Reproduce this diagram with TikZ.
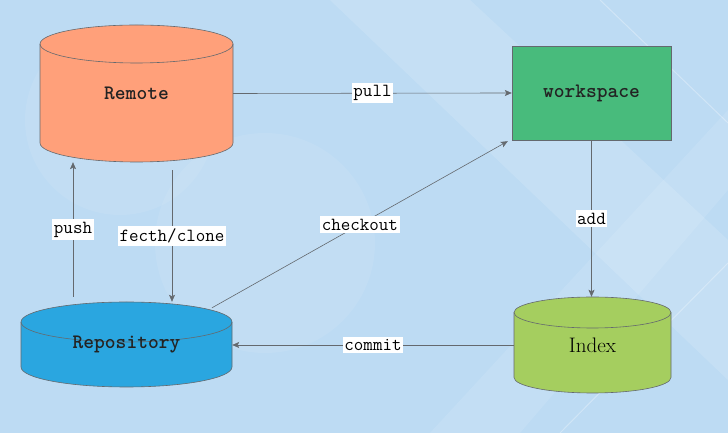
\documentclass[tikz,border=0pt]{standalone}
\usepackage{fontspec}
\usetikzlibrary{arrows.meta}
\definecolor{gbg}{RGB}{189,219,243}
\definecolor{gline}{RGB}{100,105,110}
\definecolor{gtext}{RGB}{35,35,35}
\definecolor{gremote}{RGB}{255,160,122}
\definecolor{grepo}{RGB}{42,166,224}
\definecolor{gindex}{RGB}{165,206,95}
\definecolor{gwork}{RGB}{72,187,124}

% cylinder: centre x, top y, bottom y, half width, y radius, colour
\newcommand{\gitdb}[6]{%
    \filldraw[fill=#6, draw=gline, line width=0.6pt]
        (#1-#4,#2-#5) -- (#1-#4,#3+#5)
        arc[start angle=180, end angle=360, x radius=#4, y radius=#5]
        -- (#1+#4,#2-#5)
        arc[start angle=0, end angle=180, x radius=#4, y radius=#5] -- cycle;
    \draw[gline, line width=0.6pt] (#1-#4,#2-#5)
        arc[start angle=180, end angle=360, x radius=#4, y radius=#5];
}

\begin{document}
\begin{tikzpicture}[x=1pt, y=1pt,
    place/.style={inner sep=0pt, font=\ttfamily\bfseries\fontsize{20.5}{22}\selectfont, text=gtext},
    lbl/.style={fill=white, inner xsep=1.5pt, inner ysep=2.5pt, font=\ttfamily\fontsize{18.5}{19}\selectfont, text=black},
    flow/.style={gline, line width=0.6pt, -{Stealth[length=7pt, width=6pt, inset=1.5pt]}}]
    \useasboundingbox (0,0) rectangle (728,433);

    % Draw the background
    \fill[gbg] (0,0) rectangle (728,433);
    \fill[white, opacity=0.13] (330,433) -- (470,433) -- (728,193) -- (728,53) -- cycle;
    \fill[white, opacity=0.1] (430,0) -- (520,0) -- (728,243) -- (728,323) -- cycle;
    \fill[white, opacity=0.08] (120,313) circle[radius=95];
    \fill[white, opacity=0.08] (265,190) circle[radius=110];
    \draw[white, opacity=0.3, line width=1pt] (560,0) -- (728,170);
    \draw[white, opacity=0.3, line width=1pt] (600,433) -- (728,310);

    % Draw the stores
    \gitdb{136.5}{408}{271}{96.5}{19}{gremote}
    \gitdb{126.5}{131}{46}{105.5}{20}{grepo}
    \gitdb{592.5}{136}{40}{78.5}{15.5}{gindex}
    \filldraw[fill=gwork, draw=gline, line width=0.6pt] (512,293) rectangle (671,387);

    \node[place, minimum width=193pt, minimum height=137pt] (remote) at (136.5,339.5) {Remote};
    \node[place, minimum width=211pt, minimum height=85pt] (repo) at (126.5,88.5) {Repository};
    \node[place, minimum width=157pt, minimum height=96pt, text=black, font=\rmfamily\fontsize{21}{22}\selectfont] (index) at (592.5,88) {Index};
    \node[place, minimum width=159pt, minimum height=94pt] (work) at (591.5,340) {workspace};

    % Draw the commands
    \draw[flow] (remote.east) -- (work.west) node[midway, lbl] {pull};
    \draw[flow] ([xshift=-53.5pt, yshift=5pt]repo.north) -- ([xshift=-63.5pt]remote.south) node[midway, lbl] {push};
    \draw[flow] ([xshift=35.5pt, yshift=-8pt]remote.south) -- ([xshift=45.5pt]repo.north) node[midway, lbl] {fecth/clone};
    \draw[flow] ([xshift=85.5pt, yshift=-6pt]repo.north) -- ([xshift=-4pt, yshift=-1pt]work.south west) node[midway, lbl] {checkout};
    \draw[flow] (work.south) -- (work.south |- index.north) node[midway, lbl] {add};
    \draw[flow] (index.west) -- (repo.east |- index.west) node[midway, lbl] {commit};
\end{tikzpicture}
\end{document}
